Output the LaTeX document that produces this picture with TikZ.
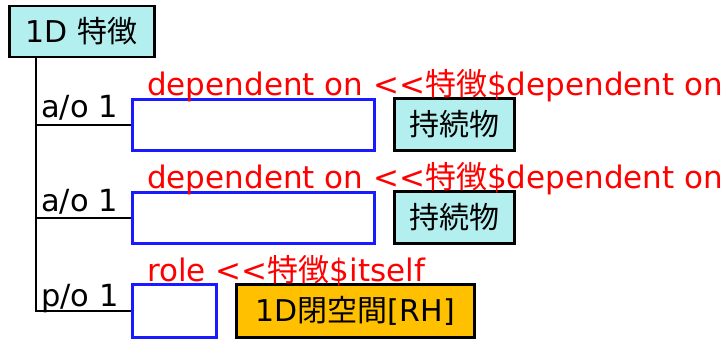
\documentclass[tikz,border=0pt]{standalone}
\usepackage{fontspec}
\setmainfont{DejaVu Sans}[Ligatures=NoCommon]
\newfontfamily\cjk{Noto Sans CJK JP}
\definecolor{featCyan}{HTML}{B4EFEF}
\definecolor{roleOrange}{HTML}{FFC000}
\definecolor{slotBlue}{HTML}{1A1AFF}
\newcommand{\fsBox}{\fontsize{30}{34}\selectfont}
\newcommand{\fsRel}{\fontsize{31}{35}\selectfont}
\newcommand{\fsCard}{\fontsize{30.5}{34}\selectfont}
\newcommand{\tokucho}{{\cjk 特徴}}
\tikzset{
  typebox/.style={draw=black, line width=2.5pt, fill=featCyan, inner sep=0pt, anchor=north west, font=\fsBox},
  slotbox/.style={draw=slotBlue, line width=2.5pt, fill=white, inner sep=0pt, anchor=north west},
  conntext/.style={text=red, anchor=base west, inner sep=0pt, font=\fsRel},
  cardtext/.style={anchor=base west, inner sep=0pt, font=\fsCard},
}

\begin{document}
\begin{tikzpicture}[x=1pt, y=-1pt]
  \useasboundingbox (0,0) rectangle (725,338);
  % feature box
  \node[typebox, minimum width=145pt, minimum height=51pt] (feat) at (8,4.5) {1D \tokucho};
  \coordinate (trunk) at ([xshift=28pt]feat.south west);
  % slots
  \node[slotbox, minimum width=242pt, minimum height=51pt] (slot1) at (131,98) {};
  \node[slotbox, minimum width=242pt, minimum height=51pt] (slot2) at (131,191) {};
  \node[slotbox, minimum width=84pt, minimum height=53pt] (slot3) at (131,283) {};
  % fillers
  \node[typebox, minimum width=120pt, minimum height=52pt] (cont1) at (393,97) {\cjk 持続物};
  \node[typebox, minimum width=120pt, minimum height=52pt] (cont2) at (393,190) {\cjk 持続物};
  \node[typebox, fill=roleOrange, minimum width=238pt, minimum height=53pt] (space) at (235,283) {1D{\cjk 閉空間}[RH]};
  % tree
  \draw[line width=2.5pt] (trunk) |- (slot3.west);
  \draw[line width=2.5pt] (trunk |- slot1.west) -- (slot1.west);
  \draw[line width=2.5pt] (trunk |- slot2.west) -- (slot2.west);
  % labels
  \node[cardtext] (card1) at (41,117) {a/o 1};
  \node[cardtext] (card2) at (41,211) {a/o 1};
  \node[cardtext] (card3) at (41,306) {p/o 1};
  \node[conntext] (rel1) at (147,95) {dependent on <{}<\tokucho\$dependent on};
  \node[conntext] (rel2) at (147,188) {dependent on <{}<\tokucho\$dependent on};
  \node[conntext] (rel3) at (147,281) {role <{}<\tokucho\$itself};
\end{tikzpicture}
\end{document}
